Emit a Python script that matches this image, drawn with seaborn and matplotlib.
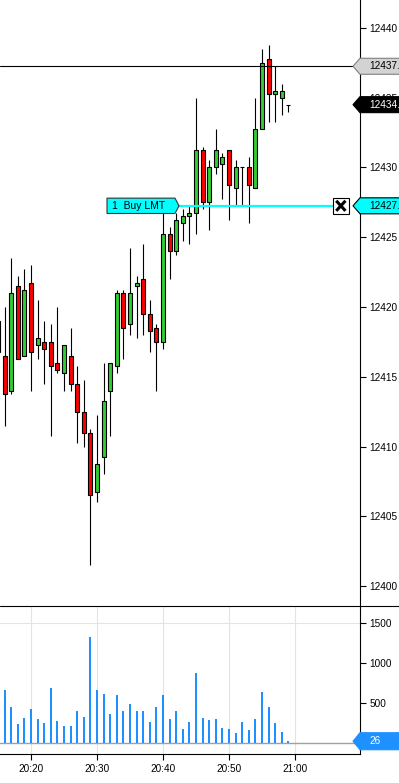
import numpy as np
import pandas as pd
import matplotlib
matplotlib.use('Agg')
import matplotlib.pyplot as plt
import seaborn as sns
from matplotlib.patches import Polygon, Rectangle
from matplotlib.lines import Line2D

# 1-minute bars, x = minutes after 20:00
candle_minutes = list(range(15, 60))
opens = [12419.0, 12416.5, 12414.0, 12421.5, 12416.5, 12421.75, 12417.25, 12417.5, 12417.5, 12416.0,
         12415.25, 12416.5, 12414.5, 12412.5, 12411.0, 12406.75, 12409.25, 12414.0, 12415.75, 12421.0,
         12418.75, 12421.5, 12422.0, 12419.5, 12418.5, 12417.5, 12425.25, 12424.0, 12426.0, 12426.5,
         12426.75, 12431.25, 12427.5, 12430.0, 12430.25, 12431.25, 12428.5, 12430.0, 12430.0, 12428.5,
         12432.75, 12437.75, 12435.25, 12435.0, 12434.5]
highs = [12420.0, 12420.0, 12423.5, 12422.25, 12422.75, 12423.0, 12420.5, 12419.0, 12418.75, 12420.0,
         12417.25, 12418.5, 12415.75, 12414.75, 12411.25, 12412.25, 12416.0, 12416.0, 12421.25, 12421.25,
         12424.25, 12422.25, 12424.5, 12420.5, 12418.75, 12426.75, 12425.75, 12426.75, 12427.0, 12427.25,
         12435.0, 12431.5, 12430.5, 12432.75, 12431.0, 12431.25, 12430.5, 12430.0, 12430.75, 12435.0,
         12438.5, 12438.75, 12437.25, 12436.0, 12434.5]
lows = [12416.0, 12411.5, 12413.75, 12416.25, 12416.5, 12414.0, 12416.25, 12414.5, 12410.75, 12415.25,
        12414.0, 12414.0, 12410.25, 12410.0, 12401.5, 12406.0, 12408.0, 12410.75, 12415.25, 12416.25,
        12418.0, 12417.75, 12418.0, 12416.75, 12414.0, 12417.0, 12422.0, 12423.75, 12424.75, 12424.5,
        12425.25, 12427.0, 12425.5, 12429.5, 12427.75, 12426.25, 12427.25, 12427.25, 12426.0, 12428.5,
        12432.75, 12433.25, 12433.25, 12433.75, 12434.0]
closes = [12416.75, 12413.75, 12421.0, 12416.25, 12421.25, 12416.75, 12417.75, 12417.0, 12415.75, 12415.5,
          12417.25, 12414.5, 12412.5, 12411.0, 12406.5, 12408.75, 12413.25, 12416.0, 12421.0, 12418.5,
          12421.0, 12421.75, 12419.5, 12418.25, 12417.5, 12425.25, 12424.0, 12426.25, 12426.5, 12426.75,
          12431.25, 12427.5, 12430.0, 12431.25, 12430.75, 12428.75, 12430.0, 12430.0, 12428.75, 12432.75,
          12437.5, 12435.25, 12435.5, 12435.5, 12434.5]

vol_minutes = list(range(16, 60))
volumes = [661, 450, 240, 314, 426, 302, 252, 686, 277, 215,
           215, 401, 326, 1318, 661, 612, 364, 599, 401, 488,
           401, 401, 264, 450, 599, 302, 401, 178, 264, 872,
           314, 289, 302, 190, 178, 128, 264, 165, 302, 637,
           450, 252, 141, 26]

time_ticks = [20, 30, 40, 50, 60]
time_labels = ['20:20', '20:30', '20:40', '20:50', '21:00']
price_ticks = list(range(12400, 12441, 5))
volume_ticks = [500, 1000, 1500]

marker_price = 12437.25
last_price = 12434.5
order_price = 12427.25
order_text = '1  Buy LMT'
last_volume = 26

W, H = 399, 783
sns.set_style('white')
plt.rcParams['font.family'] = ['Liberation Sans', 'DejaVu Sans']


def frame(top, bottom):
    return [0, 1 - bottom / H, 360 / W, (bottom - top) / H]


fig = plt.figure(figsize=(W / 100, H / 100), dpi=100)
ax = fig.add_axes(frame(0, 606))
axv = fig.add_axes(frame(606, 754), sharex=ax)

# candles
df = pd.DataFrame({'minute': candle_minutes, 'open': opens, 'high': highs,
                   'low': lows, 'close': closes})
df['body_lo'] = df[['open', 'close']].min(axis=1)
df['body_h'] = (df['close'] - df['open']).abs()
colors = np.where(df['close'] >= df['open'], '#32CD32', '#FF0000')
ax.vlines(df['minute'], df['low'], df['high'], color='black', lw=0.8, zorder=2)
ax.bar(df['minute'], df['body_h'], bottom=df['body_lo'], width=0.6, color=colors,
       edgecolor='black', linewidth=0.8, zorder=3)

# volume
vdf = pd.DataFrame({'minute': vol_minutes, 'volume': volumes})
for t in time_ticks:
    axv.axvline(t, color='#e3e3e3', lw=0.8, zorder=0.5)
axv.axhline(1500, color='#e3e3e3', lw=0.8, zorder=0.5)
sns.barplot(data=vdf, x='minute', y='volume', native_scale=True, color='#1E90FF',
            saturation=1, width=0.3, errorbar=None, linewidth=0, ax=axv, zorder=2)
axv.axhline(0, color='#a0a0a0', lw=1, zorder=1)
axv.set_xlabel('')
axv.set_ylabel('')

ax.set_xlim(15.3, 69.85)
ax.set_ylim(12398.57, 12442.0)
axv.set_ylim(-133, 1709)

# axes styling
ax.yaxis.tick_right()
ax.set_yticks(price_ticks)
ax.tick_params(axis='y', direction='out', length=4.3, width=0.8, pad=2.5,
               labelsize=7.2, colors='black', right=True, left=False)
ax.tick_params(axis='x', length=0, labelbottom=False)
for s in ['top', 'left', 'bottom']:
    ax.spines[s].set_visible(False)
ax.spines['right'].set_color('black')
ax.spines['right'].set_linewidth(0.8)

axv.yaxis.tick_right()
axv.set_yticks(volume_ticks)
axv.tick_params(axis='y', direction='out', length=4.3, width=0.8, pad=2.5,
                labelsize=7.2, colors='black', right=True, left=False)
axv.set_xticks(time_ticks, time_labels)
axv.tick_params(axis='x', direction='out', length=4.3, width=0.8, pad=3,
                labelsize=7.2, colors='black', bottom=True)
for s in ['top', 'left']:
    axv.spines[s].set_visible(False)
for s in ['right', 'bottom']:
    axv.spines[s].set_color('black')
    axv.spines[s].set_linewidth(0.8)

fig.add_artist(Line2D([0, 1], [1 - 606 / H] * 2, transform=fig.transFigure,
                      color='black', lw=0.8))


def tag(axis, y, half, text, face, edge, txt):
    tr = axis.get_yaxis_transform()
    pts = [(353 / 360, y), (1.0, y + half), (1.2, y + half), (1.2, y - half), (1.0, y - half)]
    axis.add_patch(Polygon(pts, closed=True, transform=tr, facecolor=face, edgecolor=edge,
                           lw=0.8, clip_on=False, zorder=10))
    axis.text(369 / 360, y, text, transform=tr, color=txt, fontsize=7.2, va='center',
              ha='left', clip_on=False, zorder=11)


# price lines and tags
tr = ax.get_yaxis_transform()
ax.axhline(marker_price, color='black', lw=0.8, zorder=4)
ax.plot([179 / 360, 333 / 360], [order_price] * 2, transform=tr, color='#00FFFF', lw=1.6, zorder=4)

h = 0.55
ax.add_patch(Polygon([(107 / 360, order_price + h), (175 / 360, order_price + h),
                      (179 / 360, order_price), (175 / 360, order_price - h),
                      (107 / 360, order_price - h)], closed=True, transform=tr,
                     facecolor='#00FFFF', edgecolor='#333333', lw=0.8, zorder=6))
ax.text(112 / 360, order_price, order_text, transform=tr, fontsize=7.5, va='center',
        ha='left', color='black', zorder=7)

bx0, bx1 = 333 / 360, 348.7 / 360
hb = 0.56
ax.add_patch(Rectangle((bx0, order_price - hb), bx1 - bx0, 2 * hb, transform=tr,
                       facecolor='white', edgecolor='black', lw=0.8, zorder=6))
ax.plot([bx0 + 0.009, bx1 - 0.009], [order_price - 0.36, order_price + 0.36], transform=tr,
        color='black', lw=2.2, zorder=7, solid_capstyle='butt')
ax.plot([bx0 + 0.009, bx1 - 0.009], [order_price + 0.36, order_price - 0.36], transform=tr,
        color='black', lw=2.2, zorder=7, solid_capstyle='butt')

tag(ax, marker_price, 0.573, f'{marker_price:.2f}', '#d3d3d3', '#808080', 'black')
tag(ax, last_price, 0.573, f'{last_price:.2f}', 'black', 'black', 'white')
tag(ax, order_price, 0.573, f'{order_price:.2f}', '#00FFFF', 'black', 'black')
tag(axv, last_volume, 106, str(last_volume), '#1E90FF', '#1E90FF', 'white')

fig.savefig('out.png', dpi=100)
